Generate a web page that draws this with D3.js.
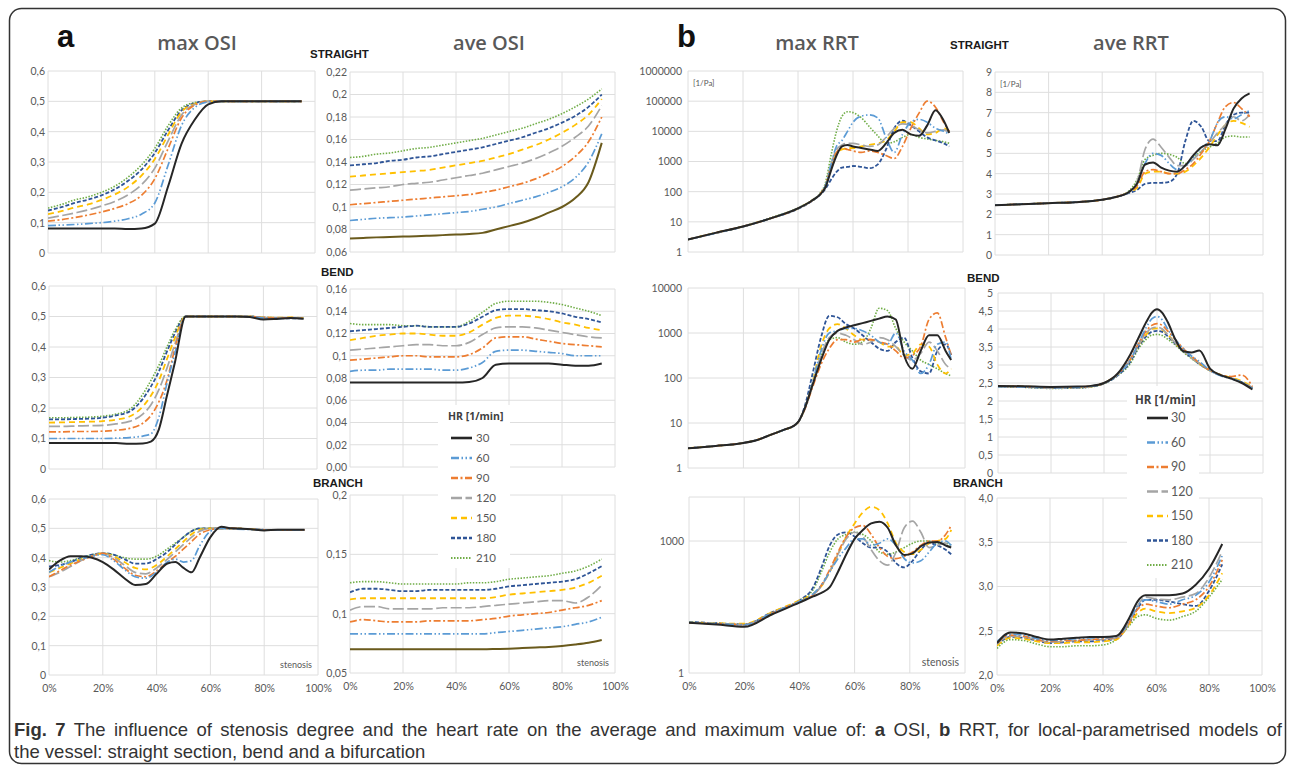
<!DOCTYPE html>
<html><head><meta charset="utf-8">
<script src="https://cdn.jsdelivr.net/npm/d3@7"></script>
<style>body{margin:0;background:#fff}svg{display:block}</style>
</head><body><svg id="c" width="1292" height="768"></svg>
<script>
// ---------------- DATA ----------------
const hrLabels = ["30","60","90","120","150","180","210"];
const xTickValues = [0,20,40,60,80,100];
const xTickLabels = ["0%","20%","40%","60%","80%","100%"];

// a: max OSI, straight
const stenA1 = [0,5,10,15,20,25,30,35,40,45,50,55,60,65,70,75,80,85,90,95];
const maxOsiStraight = [
 [0.081,0.081,0.081,0.081,0.081,0.081,0.079,0.081,0.097,0.22,0.36,0.44,0.49,0.5,0.5,0.5,0.5,0.5,0.5,0.5],
 [0.09,0.092,0.094,0.097,0.1,0.105,0.113,0.128,0.165,0.29,0.42,0.48,0.498,0.5,0.5,0.5,0.5,0.5,0.5,0.5],
 [0.105,0.11,0.117,0.125,0.135,0.147,0.163,0.19,0.245,0.345,0.445,0.488,0.5,0.5,0.5,0.5,0.5,0.5,0.5,0.5],
 [0.115,0.123,0.132,0.142,0.155,0.17,0.192,0.225,0.28,0.37,0.455,0.49,0.5,0.5,0.5,0.5,0.5,0.5,0.5,0.5],
 [0.128,0.138,0.15,0.16,0.175,0.193,0.218,0.255,0.31,0.39,0.465,0.492,0.5,0.5,0.5,0.5,0.5,0.5,0.5,0.5],
 [0.14,0.151,0.165,0.176,0.19,0.21,0.238,0.275,0.33,0.405,0.47,0.494,0.5,0.5,0.5,0.5,0.5,0.5,0.5,0.5],
 [0.148,0.16,0.175,0.185,0.2,0.22,0.25,0.29,0.345,0.42,0.478,0.496,0.5,0.5,0.5,0.5,0.5,0.5,0.5,0.5]
];
// a: max OSI, bend
const stenA2 = [0,5,10,15,20,25,30,35,38,41,44,47,51,55,60,65,70,75,80,85,90,95];
const maxOsiBend = [
 [0.085,0.085,0.085,0.085,0.085,0.085,0.083,0.084,0.09,0.13,0.24,0.35,0.5,0.5,0.5,0.5,0.5,0.498,0.49,0.492,0.495,0.493],
 [0.1,0.1,0.1,0.1,0.1,0.101,0.103,0.108,0.115,0.17,0.28,0.38,0.5,0.5,0.5,0.5,0.5,0.5,0.495,0.493,0.495,0.494],
 [0.122,0.122,0.123,0.123,0.124,0.127,0.133,0.15,0.175,0.22,0.29,0.395,0.5,0.5,0.5,0.5,0.5,0.5,0.497,0.495,0.496,0.494],
 [0.14,0.14,0.141,0.142,0.143,0.148,0.156,0.18,0.21,0.26,0.33,0.41,0.5,0.5,0.5,0.5,0.5,0.5,0.496,0.494,0.495,0.493],
 [0.152,0.153,0.154,0.155,0.157,0.162,0.172,0.205,0.24,0.29,0.36,0.43,0.5,0.5,0.5,0.5,0.5,0.5,0.497,0.496,0.497,0.495],
 [0.163,0.163,0.164,0.165,0.168,0.176,0.188,0.23,0.27,0.32,0.385,0.445,0.5,0.5,0.5,0.5,0.5,0.5,0.496,0.495,0.494,0.494],
 [0.168,0.168,0.169,0.17,0.173,0.18,0.195,0.245,0.29,0.34,0.4,0.455,0.5,0.5,0.5,0.5,0.5,0.5,0.497,0.496,0.495,0.495]
];
// a: max OSI, branch
const stenA3 = [0,4,8,12,16,20,24,28,32,36,40,44,47,50,53,56,60,64,68,75,80,85,90,95];
const maxOsiBranch = [
 [0.36,0.39,0.405,0.405,0.4,0.385,0.36,0.33,0.307,0.31,0.345,0.38,0.385,0.365,0.35,0.4,0.47,0.505,0.5,0.497,0.493,0.495,0.495,0.495],
 [0.35,0.37,0.385,0.395,0.405,0.41,0.39,0.36,0.335,0.33,0.35,0.385,0.395,0.385,0.39,0.44,0.49,0.5,0.498,0.496,0.495,0.495,0.495,0.495],
 [0.335,0.355,0.375,0.39,0.405,0.415,0.395,0.365,0.34,0.335,0.355,0.385,0.405,0.43,0.455,0.48,0.495,0.5,0.5,0.497,0.495,0.495,0.495,0.495],
 [0.335,0.35,0.37,0.39,0.405,0.415,0.4,0.375,0.35,0.345,0.365,0.395,0.42,0.445,0.47,0.49,0.5,0.5,0.5,0.497,0.495,0.495,0.495,0.495],
 [0.35,0.365,0.38,0.395,0.405,0.415,0.405,0.385,0.365,0.36,0.375,0.405,0.43,0.455,0.48,0.495,0.5,0.5,0.5,0.497,0.495,0.495,0.495,0.495],
 [0.37,0.375,0.385,0.4,0.41,0.415,0.41,0.395,0.38,0.38,0.395,0.42,0.445,0.47,0.49,0.5,0.5,0.5,0.5,0.497,0.495,0.495,0.495,0.495],
 [0.39,0.385,0.39,0.4,0.41,0.415,0.41,0.4,0.395,0.395,0.405,0.43,0.45,0.47,0.49,0.5,0.5,0.5,0.5,0.497,0.495,0.495,0.495,0.495]
];
// a: ave OSI (straight, bend, branch share stenosis points)
const stenA456 = [0,5,10,15,20,25,30,35,40,45,50,55,60,65,70,75,80,85,90,95];
const aveOsiStraight = [
 [0.072,0.0725,0.073,0.0733,0.0737,0.074,0.0745,0.075,0.0755,0.076,0.077,0.08,0.083,0.086,0.09,0.095,0.1,0.108,0.122,0.157],
 [0.088,0.089,0.09,0.0905,0.091,0.092,0.093,0.094,0.095,0.096,0.098,0.1,0.103,0.106,0.109,0.113,0.118,0.126,0.14,0.165],
 [0.102,0.103,0.104,0.105,0.106,0.107,0.108,0.109,0.11,0.111,0.113,0.115,0.118,0.121,0.125,0.13,0.136,0.145,0.158,0.18],
 [0.115,0.116,0.117,0.118,0.12,0.121,0.122,0.124,0.126,0.128,0.13,0.133,0.136,0.139,0.143,0.148,0.154,0.162,0.172,0.19],
 [0.127,0.128,0.129,0.13,0.131,0.132,0.133,0.135,0.137,0.139,0.141,0.144,0.147,0.151,0.155,0.16,0.166,0.173,0.182,0.196],
 [0.137,0.138,0.139,0.141,0.142,0.144,0.145,0.147,0.149,0.151,0.153,0.156,0.159,0.162,0.166,0.17,0.175,0.181,0.189,0.2],
 [0.144,0.145,0.147,0.148,0.15,0.152,0.153,0.155,0.157,0.159,0.161,0.164,0.167,0.17,0.174,0.178,0.183,0.189,0.196,0.205]
];
const aveOsiBend = [
 [0.076,0.076,0.076,0.076,0.076,0.076,0.076,0.076,0.076,0.0765,0.08,0.092,0.093,0.093,0.093,0.093,0.092,0.091,0.091,0.093],
 [0.086,0.087,0.087,0.088,0.088,0.088,0.088,0.087,0.087,0.089,0.094,0.104,0.105,0.105,0.104,0.103,0.102,0.1,0.1,0.1],
 [0.096,0.097,0.098,0.099,0.1,0.1,0.099,0.099,0.099,0.101,0.107,0.116,0.117,0.117,0.115,0.113,0.111,0.11,0.109,0.108],
 [0.105,0.106,0.107,0.108,0.109,0.11,0.11,0.109,0.109,0.112,0.119,0.125,0.126,0.126,0.125,0.123,0.121,0.119,0.117,0.116],
 [0.114,0.116,0.118,0.119,0.12,0.12,0.119,0.118,0.118,0.121,0.128,0.134,0.136,0.136,0.135,0.133,0.13,0.128,0.125,0.123],
 [0.122,0.123,0.124,0.125,0.126,0.127,0.126,0.126,0.126,0.129,0.135,0.141,0.142,0.142,0.141,0.14,0.138,0.135,0.133,0.13],
 [0.129,0.128,0.128,0.128,0.127,0.127,0.126,0.126,0.126,0.131,0.139,0.147,0.149,0.149,0.149,0.148,0.146,0.143,0.14,0.136]
];
const aveOsiBranch = [
 [0.07,0.07,0.07,0.07,0.07,0.07,0.07,0.07,0.07,0.07,0.07,0.0702,0.0705,0.071,0.0715,0.072,0.0728,0.074,0.0755,0.0778],
 [0.083,0.083,0.083,0.083,0.083,0.083,0.083,0.083,0.083,0.083,0.083,0.084,0.085,0.086,0.087,0.088,0.089,0.091,0.093,0.097],
 [0.093,0.095,0.094,0.093,0.093,0.093,0.094,0.094,0.094,0.094,0.095,0.096,0.098,0.099,0.1,0.101,0.103,0.105,0.107,0.111],
 [0.103,0.106,0.106,0.104,0.104,0.104,0.104,0.105,0.105,0.105,0.106,0.107,0.108,0.109,0.11,0.111,0.111,0.109,0.114,0.124],
 [0.112,0.113,0.113,0.113,0.113,0.113,0.113,0.113,0.113,0.113,0.113,0.114,0.116,0.117,0.118,0.119,0.12,0.122,0.126,0.132],
 [0.118,0.121,0.121,0.12,0.119,0.119,0.12,0.12,0.12,0.12,0.12,0.121,0.123,0.124,0.125,0.126,0.127,0.129,0.134,0.14],
 [0.126,0.127,0.127,0.126,0.125,0.125,0.125,0.125,0.125,0.126,0.126,0.127,0.129,0.13,0.131,0.132,0.134,0.136,0.14,0.146]
];
// b: max RRT, straight [1/Pa]
const stenB1 = [0,10,20,30,40,45,48,50,52,54,56,58,60,63,66,69,72,75,78,81,84,87,90,93,95];
const maxRrtStraight = [
 [2.6,4.3,7,13,28,50,80,140,500,1580,3160,3550,3160,2800,2500,2240,3980,8900,11200,7900,7100,15800,50000,22400,8900],
 [2.6,4.2,7,13,28,50,82,160,800,3200,5000,10000,20000,32000,35000,28000,6300,2000,7900,20000,25000,20000,12600,10000,7900],
 [2.6,4.3,7.1,13,28,50,82,160,630,2000,2800,2500,2240,2000,2240,2000,1580,1260,3160,12600,40000,100000,63000,20000,10000],
 [2.6,4.3,7,13,28,50,82,160,800,2500,3550,4000,4000,3550,3160,3550,6300,12600,17800,15800,11200,8900,10000,11200,8900],
 [2.6,4.3,7,13,28,50,82,160,710,2000,2500,2800,2800,3160,3550,4000,5000,10000,20000,20000,12600,7900,8900,12600,10000],
 [2.6,4.2,6.9,13,27,48,78,125,250,450,630,660,710,660,600,800,2500,12600,22400,15800,10000,6300,5000,4000,3160],
 [2.6,4.3,7.1,13.5,29,52,88,200,1580,10000,31600,44700,41700,28200,14100,7100,4000,4500,6300,7900,6300,5600,5000,4500,4000]
];
// b: max RRT, bend
const stenB2 = [0,10,20,25,30,35,38,40,42,45,48,51,54,57,60,63,66,69,72,75,78,81,84,87,90,93,95];
const maxRrtBend = [
 [2.75,3.1,3.6,4.2,5.5,7.2,8.5,11,20,71,250,710,1120,1320,1480,1660,1860,2090,2340,2000,320,160,400,890,890,400,250],
 [2.75,3.1,3.6,4.2,5.5,7.2,8.5,11,20,80,400,1000,1120,1260,1260,1120,890,630,560,1000,400,250,126,200,560,630,250],
 [2.75,3.1,3.6,4.2,5.5,7.2,8.5,11,19,63,200,450,710,710,630,710,710,630,560,400,280,320,500,2000,2800,800,320],
 [2.75,3.1,3.6,4.2,5.5,7.2,8.5,11,20,71,320,790,1000,890,710,560,630,790,710,500,320,250,350,630,400,200,160],
 [2.75,3.1,3.6,4.2,5.5,7.2,8.5,11,20,80,500,1260,1580,1260,890,710,710,630,500,500,320,350,560,500,200,126,160],
 [2.75,3.1,3.6,4.2,5.5,7.2,8.5,11,22,126,790,2400,2240,1580,1260,890,630,450,400,630,790,280,140,126,400,560,320],
 [2.75,3.1,3.6,4.2,5.5,7.2,8.5,11,20,71,320,710,790,630,560,630,1260,3550,3160,1260,630,400,250,200,160,126,112]
];
// b: max RRT, branch
const stenB3 = [0,10,20,30,40,45,48,51,54,57,60,63,66,69,72,75,78,81,84,87,90,93,95];
const maxRrtBranch = [
 [13.8,12.6,11.2,21.4,39.8,55,66,89,200,500,1120,1780,2510,2750,2000,790,480,525,760,930,955,790,710],
 [14.1,13.2,12.6,22.9,42.7,63,100,200,398,708,1120,1120,794,891,1120,794,398,316,355,562,891,1000,794],
 [13.8,13.2,12.6,22.9,42.7,60,100,224,562,1260,2000,2240,1410,708,447,398,447,562,794,1000,1000,1410,2240],
 [13.8,13.2,12.6,22.9,41.7,60,95,200,501,1120,1580,1260,631,355,282,562,2000,2820,1580,708,794,891,794],
 [14.1,13.5,13.2,24,44.7,63,95,200,501,1260,2510,4470,6030,5010,2510,891,562,501,631,891,1000,1120,1780],
 [14.5,13.5,12.6,24,44.7,89,251,794,1410,1580,1260,891,708,708,562,316,251,355,631,891,794,631,501],
 [14.1,13.5,12.9,23.4,44.7,79,200,562,1120,1410,1580,1410,1000,562,501,562,708,891,1000,1000,891,891,794]
];
// b: ave RRT, straight
const stenB4 = [0,10,20,30,40,45,50,53,56,59,62,65,68,71,74,77,80,83,86,89,92,95];
const aveRrtStraight = [
 [2.45,2.5,2.55,2.6,2.72,2.85,3.1,3.5,4.45,4.55,4.3,4.15,4.1,4.4,4.9,5.3,5.45,5.4,6.2,7.2,7.7,7.95],
 [2.45,2.5,2.55,2.6,2.72,2.85,3.1,3.5,4.5,5.0,4.9,4.5,4.2,4.4,4.8,5.3,5.6,6.5,6.8,6.7,6.9,7.1],
 [2.45,2.5,2.55,2.6,2.72,2.85,3.1,3.4,4.1,4.2,4.1,4.0,4.0,4.2,4.5,5.0,5.6,6.5,7.3,7.5,7.2,6.8],
 [2.45,2.5,2.55,2.6,2.72,2.85,3.1,3.6,5.2,5.7,5.3,4.8,4.4,4.4,4.7,5.1,5.5,6.0,6.4,6.8,6.6,6.9],
 [2.45,2.5,2.55,2.6,2.72,2.85,3.1,3.3,4.0,4.1,4.1,4.0,4.0,4.1,4.4,4.8,5.3,5.9,6.4,6.6,6.5,6.3],
 [2.45,2.5,2.55,2.6,2.72,2.85,3.05,3.2,3.5,3.55,3.55,3.6,4.0,5.6,6.6,6.3,5.6,5.6,6.4,6.9,7.0,7.0],
 [2.45,2.5,2.55,2.6,2.72,2.85,3.15,3.7,4.7,4.9,5.0,4.95,4.8,4.5,4.8,5.1,5.3,5.5,5.8,5.85,5.8,5.8]
];
// b: ave RRT, bend
const stenB5 = [0,10,20,30,35,40,45,50,53,56,58,60,62,64,67,70,73,76,80,84,88,92,96];
const aveRrtBend = [
 [2.42,2.41,2.39,2.4,2.42,2.5,2.75,3.3,3.75,4.2,4.45,4.55,4.45,4.2,3.7,3.38,3.35,3.4,2.9,2.72,2.62,2.5,2.32],
 [2.4,2.39,2.37,2.38,2.41,2.5,2.72,3.15,3.6,4.05,4.28,4.35,4.25,4.0,3.7,3.45,3.25,3.1,2.85,2.7,2.62,2.52,2.35],
 [2.41,2.4,2.38,2.39,2.41,2.5,2.74,3.17,3.6,3.95,4.1,4.15,4.1,3.95,3.7,3.45,3.25,3.05,2.85,2.72,2.68,2.72,2.4],
 [2.4,2.39,2.36,2.37,2.4,2.49,2.72,3.15,3.55,3.9,4.02,4.05,4.0,3.85,3.6,3.4,3.2,3.05,2.85,2.72,2.63,2.52,2.38],
 [2.41,2.4,2.37,2.38,2.4,2.5,2.73,3.15,3.55,3.85,4.0,4.02,3.98,3.85,3.6,3.4,3.2,3.05,2.85,2.73,2.65,2.55,2.4],
 [2.4,2.39,2.36,2.37,2.4,2.49,2.7,3.1,3.5,3.8,3.92,3.95,3.92,3.8,3.58,3.38,3.2,3.03,2.85,2.72,2.64,2.52,2.37],
 [2.4,2.38,2.35,2.36,2.39,2.48,2.7,3.05,3.45,3.72,3.83,3.85,3.82,3.72,3.55,3.35,3.18,3.02,2.84,2.72,2.64,2.52,2.36]
];
// b: ave RRT, branch
const stenB6 = [0,5,10,15,20,25,30,35,40,45,50,53,56,60,65,70,75,80,85];
const aveRrtBranch = [
 [2.36,2.48,2.47,2.43,2.4,2.41,2.42,2.43,2.43,2.44,2.65,2.83,2.9,2.9,2.9,2.92,3.02,3.2,3.48],
 [2.38,2.46,2.45,2.41,2.39,2.4,2.41,2.42,2.42,2.43,2.62,2.78,2.85,2.83,2.8,2.85,2.9,3.05,3.35],
 [2.37,2.45,2.44,2.4,2.38,2.39,2.39,2.4,2.41,2.42,2.6,2.74,2.8,2.78,2.76,2.8,2.85,3.0,3.3],
 [2.35,2.44,2.43,2.4,2.37,2.38,2.39,2.4,2.4,2.42,2.6,2.78,2.88,2.86,2.85,2.88,2.92,3.1,3.4],
 [2.33,2.42,2.41,2.38,2.36,2.36,2.37,2.37,2.38,2.4,2.58,2.7,2.75,2.72,2.7,2.72,2.76,2.9,3.15],
 [2.34,2.43,2.42,2.39,2.36,2.37,2.38,2.38,2.39,2.41,2.59,2.75,2.85,2.85,2.83,2.8,2.78,2.95,3.25],
 [2.3,2.4,2.39,2.35,2.32,2.32,2.33,2.33,2.34,2.4,2.56,2.66,2.68,2.64,2.62,2.66,2.72,2.88,3.08]
];

// tick values and labels
const tMaxOsi = [0,0.1,0.2,0.3,0.4,0.5,0.6];
const lMaxOsi = ["0","0,1","0,2","0,3","0,4","0,5","0,6"];
const tAveOsiS = [0.06,0.08,0.1,0.12,0.14,0.16,0.18,0.2,0.22];
const lAveOsiS = ["0,06","0,08","0,1","0,12","0,14","0,16","0,18","0,2","0,22"];
const tAveOsiB = [0,0.02,0.04,0.06,0.08,0.1,0.12,0.14,0.16];
const lAveOsiB = ["0,00","0,02","0,04","0,06","0,08","0,1","0,12","0,14","0,16"];
const tAveOsiBr = [0.05,0.1,0.15,0.2];
const lAveOsiBr = ["0,05","0,1","0,15","0,2"];
const tMaxRrtS = [1,10,100,1000,10000,100000,1000000];
const lMaxRrtS = ["1","10","100","1000","10000","100000","1000000"];
const tMaxRrtB = [1,10,100,1000,10000];
const lMaxRrtB = ["1","10","100","1000","10000"];
const tMaxRrtBr = [1,1000,10000];
const lMaxRrtBr = ["1","1000",""];
const tAveRrtS = [0,1,2,3,4,5,6,7,8,9];
const lAveRrtS = ["0","1","2","3","4","5","6","7","8","9"];
const tAveRrtB = [0,0.5,1,1.5,2,2.5,3,3.5,4,4.5,5];
const lAveRrtB = ["0","0,5","1","1,5","2","2,5","3","3,5","4","4,5","5"];
const tAveRrtBr = [2,2.5,3,3.5,4];
const lAveRrtBr = ["2,0","2,5","3,0","3,5","4,0"];

// ---------------- STYLE ----------------
const sColor = ["#262626","#5B9BD5","#ED7D31","#A5A5A5","#FFC000","#2F5597","#70AD47"];
const sDash = [null,"8,2.5,1.5,2.5,1.5,2.5","7,2.5,2,2.5","11,3.5","6,4","4,2","1.5,1.5"];
const sWidth = [2,1.7,1.7,1.7,1.8,1.8,1.6];
const tickFont = "Lato, 'Open Sans', sans-serif";

const panels = [
 {id:"a1", L:48, R:315, T:71, B:253, log:false, dom:[0,0.6], tv:tMaxOsi, tl:lMaxOsi, xs:stenA1, ys:maxOsiStraight, gap:3},
 {id:"a2", L:49, R:317, T:286, B:469, log:false, dom:[0,0.6], tv:tMaxOsi, tl:lMaxOsi, xs:stenA2, ys:maxOsiBend, gap:3},
 {id:"a3", L:49, R:318, T:499, B:675, log:false, dom:[0,0.6], tv:tMaxOsi, tl:lMaxOsi, xs:stenA3, ys:maxOsiBranch, gap:3, xlab:true, sten:true},
 {id:"a4", L:350, R:615, T:72, B:252, log:false, dom:[0.06,0.22], tv:tAveOsiS, tl:lAveOsiS, xs:stenA456, ys:aveOsiStraight, gap:3, c30:"#6a5a1c"},
 {id:"a5", L:350, R:615, T:289, B:467, log:false, dom:[0,0.16], tv:tAveOsiB, tl:lAveOsiB, xs:stenA456, ys:aveOsiBend, gap:3},
 {id:"a6", L:350, R:615, T:495, B:673, log:false, dom:[0.05,0.2], tv:tAveOsiBr, tl:lAveOsiBr, xs:stenA456, ys:aveOsiBranch, gap:3, xlab:true, sten:true, c30:"#6a5a1c"},
 {id:"b1", L:688, R:963, T:71, B:252, log:true, dom:[1,1000000], tv:tMaxRrtS, tl:lMaxRrtS, xs:stenB1, ys:maxRrtStraight, gap:6, unit:true},
 {id:"b2", L:688, R:965, T:288, B:468, log:true, dom:[1,10000], tv:tMaxRrtB, tl:lMaxRrtB, xs:stenB2, ys:maxRrtBend, gap:6},
 {id:"b3", L:689, R:965, T:497, B:673, log:true, dom:[1,10000], tv:tMaxRrtBr, tl:lMaxRrtBr, xs:stenB3, ys:maxRrtBranch, gap:5, xlab:true, sten:true},
 {id:"b4", L:995, R:1263, T:72, B:255, log:false, dom:[0,9], tv:tAveRrtS, tl:lAveRrtS, xs:stenB4, ys:aveRrtStraight, gap:3, unit:true},
 {id:"b5", L:998, R:1263, T:293, B:473, log:false, dom:[0,5], tv:tAveRrtB, tl:lAveRrtB, xs:stenB5, ys:aveRrtBend, gap:5},
 {id:"b6", L:997, R:1262, T:498, B:675, log:false, dom:[2,4], tv:tAveRrtBr, tl:lAveRrtBr, xs:stenB6, ys:aveRrtBranch, gap:4, xlab:true}
];

const svg = d3.select("#c");
const defs = svg.append("defs");

// outer frame
svg.append("rect").attr("x",9.5).attr("y",8.5).attr("width",1276).attr("height",755)
  .attr("rx",12).attr("fill","none").attr("stroke","#333").attr("stroke-width",1.5);

panels.forEach(p => {
  const g = svg.append("g").attr("class","panel-"+p.id);
  const x = d3.scaleLinear().domain([0,100]).range([p.L,p.R]);
  const y = (p.log ? d3.scaleLog() : d3.scaleLinear()).domain(p.dom).range([p.B,p.T]);
  g.append("g").selectAll("line").data(p.tv).join("line")
    .attr("x1",p.L).attr("x2",p.R).attr("y1",d=>y(d)).attr("y2",d=>y(d))
    .attr("stroke","#dedede").attr("stroke-width",1);
  g.append("g").selectAll("line").data(xTickValues).join("line")
    .attr("x1",d=>x(d)).attr("x2",d=>x(d)).attr("y1",p.T).attr("y2",p.B)
    .attr("stroke","#dedede").attr("stroke-width",1);
  const ya = g.append("g").attr("transform",`translate(${p.L},0)`)
    .call(d3.axisLeft(y).tickValues(p.tv).tickFormat((d,i)=>p.tl[i]).tickSize(0).tickPadding(p.gap));
  ya.select(".domain").remove();
  ya.selectAll("text").attr("fill","#595959").style("font-family",tickFont).style("font-size","10.5px");
  if (p.xlab) {
    const xa = g.append("g").attr("transform",`translate(0,${p.B})`)
      .call(d3.axisBottom(x).tickValues(xTickValues).tickFormat((d,i)=>xTickLabels[i]).tickSize(0).tickPadding(10));
    xa.select(".domain").remove();
    xa.selectAll("text").attr("fill","#595959").style("font-family",tickFont).style("font-size","10.5px");
  }
  defs.append("clipPath").attr("id","clip-"+p.id).append("rect")
    .attr("x",p.L).attr("y",p.T-1).attr("width",p.R-p.L).attr("height",p.B-p.T+2);
  const line = d3.line().curve(d3.curveMonotoneX).x((d,i)=>x(p.xs[i])).y(d=>y(d));
  const lg = g.append("g").attr("clip-path",`url(#clip-${p.id})`);
  const order = [6,5,4,3,2,1,0];
  lg.selectAll("path").data(order).join("path")
    .attr("d",k=>line(p.ys[k]))
    .attr("fill","none")
    .attr("stroke",k=>(k===0 && p.c30) ? p.c30 : sColor[k])
    .attr("stroke-width",k=>sWidth[k])
    .attr("stroke-dasharray",k=>sDash[k])
    .attr("stroke-linejoin","round");
  if (p.sten) {
    g.append("text").attr("x",p.R-6).attr("y",p.B-7).attr("text-anchor","end")
      .attr("fill","#595959").style("font-family",tickFont).style("font-size", p.id==="b3"?"10.5px":"9px").text("stenosis");
  }
  if (p.unit) {
    g.append("text").attr("x",p.L+5).attr("y",p.T+15)
      .attr("fill","#595959").style("font-family",tickFont).style("font-size","8px").text("[1/Pa]");
  }
});

// titles
const titleSpec = [["max OSI",197],["ave OSI",489],["max RRT",817],["ave RRT",1131]];
svg.selectAll("text.ttl").data(titleSpec).join("text").attr("class","ttl")
  .attr("x",d=>d[1]).attr("y",50).attr("text-anchor","middle")
  .attr("fill","#595959").style("font-family","'Open Sans', sans-serif").style("font-weight","600").style("font-size","20px")
  .text(d=>d[0]);
svg.append("text").attr("x",57).attr("y",47).style("font-family","'Liberation Sans', Arial, sans-serif")
  .style("font-weight","bold").style("font-size","31px").attr("fill","#111").text("a");
svg.append("text").attr("x",677).attr("y",47).style("font-family","'Liberation Sans', Arial, sans-serif")
  .style("font-weight","bold").style("font-size","31px").attr("fill","#111").text("b");

// section labels
const secSpec = [["STRAIGHT",310,58],["BEND",321,276],["BRANCH",313,487],["STRAIGHT",950,49],["BEND",967,282],["BRANCH",953,487]];
svg.selectAll("text.sec").data(secSpec).join("text").attr("class","sec")
  .attr("x",d=>d[1]).attr("y",d=>d[2])
  .attr("fill","#1a1a1a").style("font-family","'Liberation Sans', Arial, sans-serif").style("font-weight","bold").style("font-size","11.5px")
  .text(d=>d[0]);

// legends
function legend(x0, y0, w, h, titleX, titleY, firstY, step, lx1, lx2, tx, fs) {
  const g = svg.append("g");
  g.append("rect").attr("x",x0).attr("y",y0).attr("width",w).attr("height",h).attr("fill","#fff");
  g.append("text").attr("x",titleX).attr("y",titleY).attr("fill","#404040")
    .style("font-family","'Open Sans', sans-serif").style("font-weight","700").style("font-size",fs+"px").text("HR [1/min]");
  hrLabels.forEach((lab,i) => {
    const yy = firstY + i*step;
    g.append("line").attr("x1",lx1).attr("x2",lx2).attr("y1",yy).attr("y2",yy)
      .attr("stroke",sColor[i]).attr("stroke-width",sWidth[i]+0.6).attr("stroke-dasharray",sDash[i]);
    g.append("text").attr("x",tx).attr("y",yy+4).attr("fill","#595959")
      .style("font-family",tickFont).style("font-size",(fs+1)+"px").text(lab);
  });
}
legend(438,405,72,163, 448,420, 438,20, 451,472,476, 10.5);
legend(1127,386,72,192, 1135,404, 418,24.5, 1147,1168,1171, 11.5);

// caption: first line justified to the figure width (word spacing), second line natural
const capFont = "'Liberation Sans', Arial, sans-serif";
const cap = svg.append("text").attr("x",14).attr("y",736).attr("fill","#333")
  .style("font-family",capFont).style("font-size","18.5px");
cap.append("tspan").style("font-weight","bold").text("Fig. 7");
cap.append("tspan").text(" The influence of stenosis degree and the heart rate on the average and maximum value of: ");
cap.append("tspan").style("font-weight","bold").text("a");
cap.append("tspan").text(" OSI, ");
cap.append("tspan").style("font-weight","bold").text("b");
cap.append("tspan").text(" RRT, for local-parametrised models of");
svg.append("text").attr("x",14).attr("y",758).attr("fill","#333")
  .style("font-family",capFont).style("font-size","18.5px")
  .text("the vessel: straight section, bend and a bifurcation");
const natural = cap.node().getComputedTextLength();
const spaces = (cap.text().match(/ /g) || []).length;
cap.style("word-spacing", ((1268 - natural)/spaces) + "px");
</script></body></html>
